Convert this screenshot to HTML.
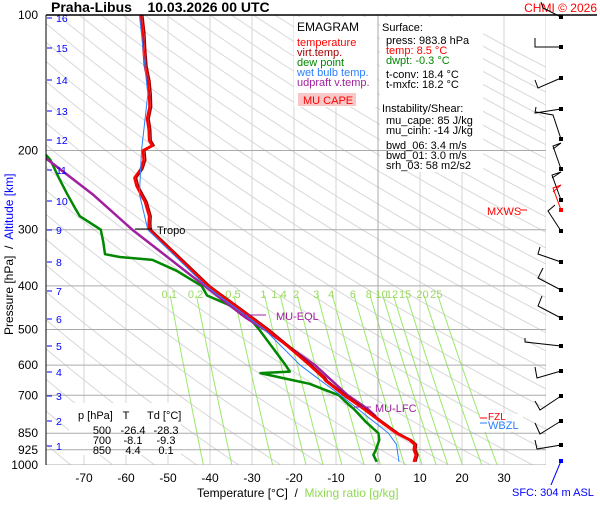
<!DOCTYPE html>
<html><head><meta charset="utf-8"><style>
body{margin:0;background:#fff;font-family:"Liberation Sans",sans-serif}
svg text{font-family:"Liberation Sans",sans-serif}
</style></head><body>
<svg id="c" width="600" height="500" viewBox="0 0 600 500"></svg>
<script>
// ---- data ----
const tempP = [100,110,120,130,140,150,160,170,180,190,195,200,210,220,230,240,250,260,270,280,290,300,350,400,450,500,550,600,640,650,700,750,800,850,880,900,925,950,984];
const tempT = [-56.5,-56,-55.8,-55.5,-54.8,-54.5,-54.4,-55,-54.6,-54.5,-53.8,-56,-55.8,-56.5,-58,-57.5,-56.5,-55.5,-55,-54.5,-54.6,-54.5,-47,-40.5,-33,-26.4,-21,-16.3,-13,-12.5,-8.1,-3.5,0.5,4.4,7.5,8.7,8.5,9,8.5];
const dewP = [200,210,230,250,270,280,300,320,340,345,350,370,400,420,440,470,500,550,600,620,625,640,660,700,720,750,800,850,880,925,950,984];
const dewT = [-80,-78,-76,-74,-72,-71,-66,-65.4,-65,-61.5,-53.7,-48,-42,-40.7,-35.7,-30.7,-28.3,-25,-22,-21,-28,-23,-16.3,-9.3,-8,-5.8,-3,0.1,0.3,-0.5,-1.1,-0.3];
const wbP = [100,150,200,250,300,400,500,600,630,700,850,900,984];
const wbT = [-56.8,-54.8,-56.3,-56.8,-54.8,-41,-27,-18.5,-15.5,-8.9,2.5,4.4,5.0];
const parP = [205,250,300,400,470,500,600,700,750,780];
const parT = [-80,-68,-58.5,-41.3,-31.6,-27,-15,-7.2,-2.5,-0.5];
const mixW = [0.1,0.2,0.5,1,1.4,2,3,4,6,8,10,12,15,20,25];
const pLabels = [100,200,300,400,500,600,700,850,925,1000];
const tLabels = [-70,-60,-50,-40,-30,-20,-10,0,10,20,30];
const kmLabels = [1,2,3,4,5,6,7,8,9,10,11,12,13,14,15,16];
const kmY = [446,421,396,372,346,319,291,262,230,201,170,140,111,80,48,18];

const NS="http://www.w3.org/2000/svg", svg=document.getElementById('c');
const X0=46,X1=546,Y0=15,Y1=465;
const x=T=>378+T*4.2, y=p=>15+450*Math.log10(p/100);
function el(tag,at,parent){const e=document.createElementNS(NS,tag);for(const k in at)e.setAttribute(k,at[k]);(parent||svg).appendChild(e);return e;}
function txt(s,at,parent){const e=el('text',at,parent);e.textContent=s;return e;}
const defs=el('defs',{});const cp=el('clipPath',{id:'pc'},defs);el('rect',{x:X0,y:Y0,width:X1-X0,height:Y1-Y0},cp);
const g=el('g',{'clip-path':'url(#pc)'});

for(let th=150;th<=560;th+=10){let pts=[];for(let p=100;p<=1000;p+=20)pts.push(x(th*Math.pow(p/1000,0.2857)-273.15)+','+y(p));
const l=el('polyline',{points:pts.join(' '),fill:'none',stroke:'#d8d8d8','stroke-width':1},g);

}
for(let T=-80;T<=40;T+=10){const l=el('line',{x1:x(T),x2:x(T),y1:Y0,y2:Y1,stroke:T==0?'#aaa':'#d4d4d4','stroke-width':1},g);

}
function tdFromW(w,p){const e=w*p/(622+w);const a=Math.log(e/6.112);return 243.5*a/(17.67-a);}
mixW.forEach(w=>{let pts=[];for(let p=420;p<=1000;p+=20)pts.push(x(tdFromW(w,p))+','+y(p));
const l=el('polyline',{points:pts.join(' '),fill:'none',stroke:'#9be86a','stroke-width':1},g);


const t=txt(String(w),{x:x(tdFromW(w,410)),y:298,'font-size':11,fill:'#9bd860','text-anchor':'middle'});

});
el('rect',{x:294,y:17,width:83,height:90,fill:'#fff',},g);
el('rect',{x:380,y:17,width:103,height:155,fill:'#fff',},g);
el('rect',{x:69,y:403,width:112,height:52,fill:'#fff',},g);
el('line',{x1:378,x2:378,y1:Y0,y2:Y1,stroke:'#aaa'},g);
pLabels.forEach(p=>{const l=el('line',{x1:X0,x2:X1,y1:y(p),y2:y(p),stroke:'#aaa','stroke-width':1},g);


const t=txt(String(p),{x:38,y:y(p)+4,'font-size':12,'text-anchor':'end',fill:'#000'});

});
tLabels.forEach(T=>{const t=txt(String(T),{x:x(T),y:482,'font-size':12,'text-anchor':'middle',fill:'#000'});

});
kmLabels.forEach((k,i)=>{el('line',{x1:47,x2:52,y1:kmY[i],y2:kmY[i],stroke:'#00f'});
const t=txt(String(k),{x:56,y:kmY[i]+4,'font-size':10.5,fill:'#00f'});

});
function line(P,T,col,w,name){const l=el('polyline',{points:P.map((p,i)=>x(T[i])+','+y(p)).join(' '),fill:'none',stroke:col,'stroke-width':w,'stroke-linejoin':'round'},g);

}
line(dewP,dewT,'#080',2.5,'dew-point-line');
line(parP,parT,'#a020a0',2.5,'updraft-line');
line(tempP,tempT.map(t=>t+0.5),'#a00000',1.5,'virtual-temp-line');
line(tempP,tempT,'#f00',2.5,'temperature-line');
line(wbP,wbT,'#2a7fff',1,'wet-bulb-line');

el('line',{x1:X0,x2:X0,y1:Y0,y2:Y1,stroke:'#000',});
el('line',{x1:X0,x2:597,y1:Y0,y2:Y0,stroke:'#000','stroke-width':1.5,});
el('line',{x1:135,x2:152,y1:229,y2:229,stroke:'#000'});
txt('Tropo',{x:157,y:234,'font-size':11,});
el('line',{x1:240,x2:266,y1:315,y2:315,stroke:'#a020a0'});
txt('MU-EQL',{x:276,y:320,'font-size':11,fill:'#a020a0',});
el('line',{x1:354,x2:371,y1:407,y2:407,stroke:'#a020a0'});
txt('MU-LFC',{x:375,y:412,'font-size':11,fill:'#a020a0',});
txt('MXWS',{x:487,y:215,'font-size':11,fill:'#f00',});
el('line',{x1:520,x2:527,y1:210,y2:210,stroke:'#f00'});
el('rect',{x:480,y:414,width:43,height:18,fill:'#fff'});
txt('FZL',{x:488,y:420,'font-size':10,fill:'#f00'});
el('line',{x1:480,x2:487,y1:418,y2:418,stroke:'#f00'});
el('line',{x1:480,x2:487,y1:423,y2:423,stroke:'#2a7fff'});
txt('WBZL',{x:488,y:429,'font-size':11,fill:'#2a7fff',});
const tb=[['p [hPa]','T','Td [°C]'],['500','-26.4','-28.3'],['700','-8.1','-9.3'],['850','4.4','0.1']];
tb.forEach((r,i)=>{const yy=i==0?419:434+(i-1)*10;
txt(r[0],{x:i==0?78:102,y:yy,'font-size':11,'text-anchor':i==0?'start':'middle'});
txt(r[1],{x:i==0?126:133,y:yy,'font-size':11,'text-anchor':'middle'});
txt(r[2],{x:i==0?147:166,y:yy,'font-size':11,'text-anchor':i==0?'start':'middle'});});
txt('EMAGRAM',{x:297,y:31,'font-size':12,});
[['temperature','#f00'],['virt.temp.','#a00000'],['dew point','#080'],['wet bulb temp.','#2a7fff'],['udpraft v.temp.','#a020a0']].forEach((l,i)=>{
const t=txt(l[0],{x:297,y:46+i*10,'font-size':11,fill:l[1]});

});
el('rect',{x:298,y:93,width:58,height:13,fill:'#f8c8c8'});
txt('MU CAPE',{x:303,y:104,'font-size':11,fill:'#f00',});
[['Surface:',382,31,'#000'],['press: 983.8 hPa',386,44,'#000'],['temp: 8.5 °C',386,54,'#f00'],['dwpt: -0.3 °C',386,64,'#080'],['t-conv: 18.4 °C',386,78,'#000'],['t-mxfc: 18.2 °C',386,88,'#000'],['Instability/Shear:',382,112,'#000'],['mu_cape: 85 J/kg',386,124,'#000'],['mu_cinh: -14 J/kg',386,134,'#000'],['bwd_06: 3.4 m/s',386,149,'#000'],['bwd_01: 3.0 m/s',386,159,'#000'],['srh_03: 58 m2/s2',386,169,'#000']].forEach(s=>{
const t=txt(s[0],{x:s[1],y:s[2],'font-size':11,fill:s[3]});

});
txt('Praha-Libus    10.03.2026 00 UTC',{x:51,y:12,'font-size':14,'font-weight':'bold',}).setAttribute('style','white-space:pre');
txt('CHMI © 2026',{x:597,y:12,'font-size':12,fill:'#f00','text-anchor':'end',});
const xt=el('text',{x:197,y:497,'font-size':12,});
xt.innerHTML='Temperature [°C]  /  <tspan fill="#8ed850">Mixing ratio [g/kg]</tspan>';xt.setAttribute('style','white-space:pre');
const yt=el('text',{x:-335,y:13,'font-size':12,transform:'rotate(-90)',});
yt.innerHTML='Pressure [hPa]  /  <tspan fill="#00f">Altitude [km]</tspan>';yt.setAttribute('style','white-space:pre');
const WX=561;
const barbs=[[17,[[-18,-9],[-20,-15]]],[47,[[-26,0],[-26,-9]]],[78,[[-23,10],[-26,2]]],[109,[[-26,4],[-25,-2]]],[139,[[-8,-24],[-25,-27]]],[169,[[-8,-23],[0,-26],[-8,-20]]],[200,[[-9,-25],[0,-28],[-9,-22]]],[231,[[-13,-20],[-6,-26]]],[262,[[-23,-8],[-21,-15]]],[290,[[-23,-12],[-18,-22]]],[318,[[-23,-12],[-19,-22]]],[346,[[-36,-4],[-36,-8]]],[371,[[-24,7],[-26,-4]]],[396,[[-21,14],[-26,5]]],[421,[[-21,13],[-26,2]]],[445,[[-24,4],[-26,-5]]]];
barbs.forEach(b=>{const pl=el('polyline',{points:WX+','+b[0]+' '+b[1].map(o=>(WX+o[0])+','+(b[0]+o[1])).join(' '),fill:'none',stroke:'#000','stroke-width':1});


el('rect',{x:WX-2,y:b[0]-2,width:4,height:4,fill:'#000'});});
el('polyline',{points:'561,210 553,188 561,185 553,192',fill:'none',stroke:'#f00'});
el('rect',{x:559,y:208,width:4,height:4,fill:'#f00'});
el('line',{x1:561,y1:461,x2:551,y2:485,stroke:'#00f'});
el('rect',{x:559,y:459,width:4,height:4,fill:'#00f'});
txt('SFC: 304 m ASL',{x:512,y:496,'font-size':11,fill:'#00f',});
</script>
</body></html>
